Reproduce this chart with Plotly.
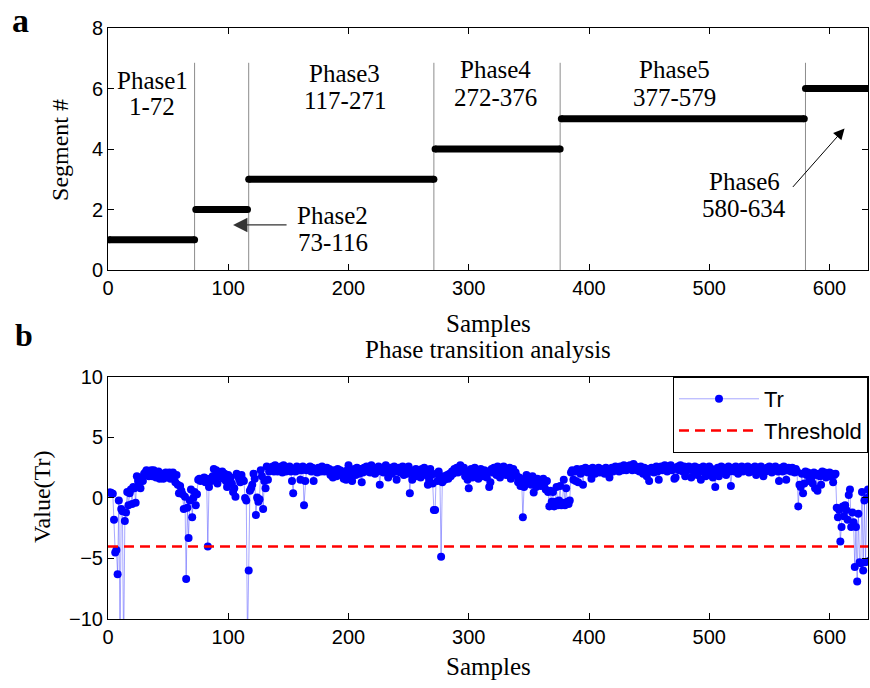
import plotly.graph_objects as go

# ---------------- data ----------------
# Panel a: segmentation result
phase_numbers = [1, 2, 3, 4, 5, 6]
phase_starts = [1, 73, 117, 272, 377, 580]
phase_ends = [72, 116, 271, 376, 579, 634]
phase_boundaries = [72, 117, 271, 376, 580]
boundary_top = 6.85
phase_names = ["Phase1", "Phase2", "Phase3", "Phase4", "Phase5", "Phase6"]
phase_ranges = ["1-72", "73-116", "117-271", "272-376", "377-579", "580-634"]
label_x = [37, 187, 197, 322, 471, 529]
name_y = [6.25, 1.79, 6.51, 6.64, 6.64, 2.94]
range_y = [5.39, 0.91, 5.59, 5.70, 5.70, 2.02]

# Panel b: transition statistic Tr per sample
tr_values = [
    0.45, 0.45, 0.4, 0.35, -1.8, -4.5, -4.3, -6.3, -0.2, -12.0,
    -0.9, -1.1, -13.0, -1.9, -1.2, 0.5, -0.6, 0.4, 0.7, -0.5,
    0.9, 0.8, -0.4, 1.8, 1.4, 1.2, 0.8, 1.7, 1.4, 2.0,
    2.1, 2.3, 2.2, 1.8, 2.2, 2.3, 1.8, 2.3, 2.1, 1.7,
    2.0, 2.2, 1.6, 1.7, 2.0, 1.6, 1.8, 2.1, 1.7, 1.9,
    2.1, 1.6, 2.0, 2.1, 1.8, 1.3, 1.9, 1.1, 0.4, 1.0,
    0.6, 0.3, -0.9, 0.1, -6.7, -0.8, -3.3, -0.2, 0.7, -1.6,
    0.0, 0.5, -0.6, 0.3, 1.5, 1.6, 1.4, 1.6, 1.5, 1.7,
    1.3, 1.6, -4.0, 0.9, 1.6, 1.4, 1.8, 2.4, 1.5, 2.3,
    1.2, 1.8, 2.1, 1.9, 2.2, 1.6, 2.0, 1.4, 0.9, 1.9,
    1.4, 1.7, 1.2, 0.5, 0.8, 0.1, 2.0, 1.8, 1.6, 1.3,
    1.9, 1.5, 1.4, 0.0, -0.2, -12.0, -6.0, 0.6, 0.8, 1.1,
    2.0, 1.6, -1.4, 0.05, -0.3, -0.1, 2.3, 1.8, -0.9, 1.4,
    0.8, 2.6, 1.5, 2.2, 2.5, 2.3, 2.6, 2.2, 2.7, 2.4,
    2.2, 2.5, 2.3, 2.6, 2.1, 2.7, 2.4, 2.2, 2.5, 2.3,
    2.6, 2.2, 1.4, 0.4, 2.4, 2.2, 2.6, 2.3, 2.5, 1.5,
    2.3, 2.6, -0.6, 1.4, 2.3, 2.5, 2.4, 2.6, 2.2, 2.5,
    1.4, 2.3, 2.4, 2.1, 2.5, 2.3, 2.2, 2.6, 2.4, 2.2,
    2.3, 2.5, 2.2, 2.4, 1.9, 2.2, 1.7, 2.3, 2.0, 1.8,
    2.4, 2.1, 2.3, 1.9, 2.2, 1.6, 2.0, 1.5, 2.3, 2.7,
    2.1, 1.7, 1.4, 2.2, 2.4, 1.9, 2.5, 2.2, 2.0, 2.4,
    1.3, 2.1, 2.5, 2.3, 2.6, 2.2, 2.4, 2.1, 2.7, 2.3,
    2.5, 2.0, 2.4, 2.2, 2.6, 1.1, 2.3, 2.5, 2.1, 2.4,
    2.7, 2.2, 1.7, 2.3, 2.5, 2.0, 2.4, 2.6, 2.2, 1.5,
    2.3, 2.5, 2.1, 2.4, 2.6, 1.9, 2.3, 2.5, 2.0, 2.6,
    0.4, 2.2, 1.5, 2.0, 2.3, 2.4, 1.8, 2.3, 2.1, 1.7,
    2.4, 2.2, 2.5, 1.9, 2.3, 1.1, 1.5, 2.4, 1.9, 1.2,
    -1.0, -1.0, 2.0, 1.4, 2.2, 1.7, -4.85, 1.3, 1.8, 1.5,
    1.7, 1.9, 1.6, 2.0, 1.8, 2.2, 2.0, 2.4, 2.2, 2.5,
    2.1, 2.3, 2.7, 2.4, 2.2, 2.5, 1.8, 2.2, 1.5, 0.8,
    2.0, 2.4, 1.7, 2.2, 2.5, 2.0, 2.3, 1.6, 2.2, 2.4,
    2.1, 1.8, 2.3, 2.0, 1.7, 2.2, 0.9, 1.3, 2.4, 2.1,
    2.5, 2.2, 1.9, 2.6, 2.3, 1.7, 2.5, 2.1, 2.6, 2.3,
    1.9, 2.4, 2.1, 2.5, 1.6, 2.2, 2.4, 1.9, 2.1, 1.8,
    1.3, 1.7, 1.0, 1.5, -1.6, 0.9, 1.6, 1.9, 1.2, 1.7,
    1.5, 1.1, 1.8, 0.45, 1.3, 0.9, 1.6, 1.2, 1.5, 1.0,
    1.4, 1.6, 1.2, 0.7, 1.4, 0.5, -0.7, 0.6, -0.3, 0.5,
    -0.7, -0.3, 0.9, -0.6, -0.2, 1.0, -0.6, -0.4, 1.5, -0.6,
    0.8, -0.3, -0.5, -0.2, 2.1, 2.3, 1.5, 2.2, 1.4, 2.4,
    1.3, 2.3, 2.0, 2.4, 1.1, 2.2, 2.5, 2.3, 2.1, 2.4,
    2.2, 1.6, 2.5, 2.3, 2.0, 2.4, 2.2, 2.5, 2.1, 2.4,
    2.2, 2.3, 2.0, 2.5, 2.2, 2.4, 1.7, 2.3, 2.5, 2.2,
    2.4, 2.6, 2.3, 2.5, 2.2, 2.6, 2.4, 2.3, 2.7, 2.5,
    2.3, 2.6, 2.4, 2.7, 2.5, 2.3, 2.8, 2.4, 2.6, 2.3,
    2.5, 2.2, 2.6, 2.4, 2.0, 2.5, 2.3, 1.8, 2.4, 1.4,
    2.2, 2.5, 2.3, 2.1, 2.4, 2.6, 2.2, 1.5, 2.4, 2.6,
    2.3, 2.5, 2.7, 2.4, 2.2, 2.6, 2.4, 2.7, 2.3, 2.5,
    1.6, 1.7, 2.4, 2.6, 2.3, 2.7, 2.4, 2.2, 2.6, 1.8,
    2.5, 2.3, 2.6, 2.4, 1.7, 2.5, 2.2, 2.6, 2.3, 1.9,
    2.5, 2.2, 1.5, 2.4, 2.6, 2.1, 1.8, 2.5, 2.3, 2.6,
    2.0, 2.4, 1.7, 2.2, 0.9, 2.3, 2.5, 1.8, 2.4, 2.6,
    2.2, 2.5, 2.3, 1.9, 2.4, 2.6, 2.2, 1.0, 2.3, 2.5,
    2.2, 2.6, 2.4, 2.0, 2.5, 2.3, 2.6, 2.2, 2.4, 2.5,
    2.3, 2.6, 2.1, 2.4, 2.2, 2.5, 2.3, 2.6, 1.9, 2.4,
    2.5, 2.2, 2.6, 2.3, 1.8, 2.4, 2.2, 2.5, 2.3, 2.6,
    2.4, 2.1, 2.5, 2.3, 2.6, 2.4, 2.2, 1.4, 2.3, 2.5,
    2.2, 2.6, 2.4, 1.5, 2.3, 2.5, 2.4, 2.2, 2.5, 2.3,
    2.1, 2.4, 2.2, -0.7, 1.1, 0.9, 2.0, 0.4, 1.2, 2.2,
    1.9, 2.1, 1.4, 2.0, 1.7, 1.2, 2.1, 0.8, 1.9, 0.6,
    2.0, 1.8, 1.1, 2.2, 1.9, 2.1, 1.7, 2.0, 1.9, 2.1,
    1.8, 2.0, 1.3, 1.9, 2.0, -0.8, -1.6, -1.0, -3.6, -2.4,
    -0.7, -1.5, -0.6, -1.0, -1.8, 0.25, 0.7, -2.4, -1.2, -2.0,
    -5.7, -2.4, -6.9, -1.3, -5.3, -5.4, 0.5, -6.0, -0.2, -5.3,
    0.0, 0.7, -5.2, 0.3,
]
sample_idx = list(range(1, len(tr_values) + 1))
threshold_value = -4
threshold_x = [0, 634]

x_ticks = [0, 100, 200, 300, 400, 500, 600]
ya_ticks = [0, 2, 4, 6, 8]
yb_ticks = [-10, -5, 0, 5, 10]

SERIF = "Liberation Serif"
SANS = "Liberation Sans"

fig = go.Figure()

# ---- panel a: boundaries ----
for b in phase_boundaries:
    fig.add_trace(go.Scatter(x=[b, b], y=[0, boundary_top], mode="lines",
                             line=dict(color="#8c8c8c", width=1),
                             showlegend=False, hoverinfo="skip",
                             xaxis="x", yaxis="y"))

# ---- panel a: segments ----
seg_x, seg_y = [], []
for n, s, e in zip(phase_numbers, phase_starts, phase_ends):
    seg_x += [s, e, None]
    seg_y += [n, n, None]
fig.add_trace(go.Scatter(x=seg_x, y=seg_y, mode="lines+markers",
                         line=dict(color="black", width=7),
                         marker=dict(color="black", size=7),
                         showlegend=False, xaxis="x", yaxis="y"))

# ---- panel b ----
fig.add_trace(go.Scatter(x=sample_idx, y=tr_values, mode="lines+markers", name="Tr",
                         line=dict(color="rgba(60,60,255,0.45)", width=1),
                         marker=dict(color="#0000ff", size=8),
                         xaxis="x2", yaxis="y2"))
fig.add_trace(go.Scatter(x=threshold_x, y=[threshold_value] * len(threshold_x),
                         mode="lines", name="Threshold",
                         line=dict(color="#ff0000", width=2.5, dash="10px,6px"),
                         xaxis="x2", yaxis="y2"))

axis_common = dict(showline=True, linecolor="black", linewidth=1, mirror="ticks",
                   ticks="inside", ticklen=6, tickcolor="black", showgrid=False,
                   zeroline=False, tickfont=dict(family=SANS, size=20, color="black"))

fig.update_layout(
    width=870, height=688,
    margin=dict(l=108, r=2, t=28, b=69),
    paper_bgcolor="white", plot_bgcolor="white",
    xaxis=dict(domain=[0, 1], range=[0, 632], tickvals=x_ticks, anchor="y", **axis_common),
    yaxis=dict(domain=[0.5905, 1], range=[0, 8], tickvals=ya_ticks, anchor="x", **axis_common),
    xaxis2=dict(domain=[0, 1], range=[0, 632], tickvals=x_ticks, anchor="y2", **axis_common),
    yaxis2=dict(domain=[0, 0.4095], range=[-10, 10], tickvals=yb_ticks, anchor="x2", **axis_common),
    legend=dict(x=1, y=0.4095, xanchor="right", yanchor="top",
                bgcolor="white", bordercolor="black", borderwidth=1,
                font=dict(family=SANS, size=22, color="black"),
                itemwidth=80, tracegroupgap=0),
    showlegend=True,
)

annotations = []
# phase labels (two lines each)
for nm, rg, lx, ny, ry in zip(phase_names, phase_ranges, label_x, name_y, range_y):
    annotations.append(dict(x=lx, y=ny, xref="x", yref="y", text=nm, showarrow=False,
                            font=dict(family=SERIF, size=25, color="black"),
                            xanchor="center", yanchor="middle"))
    annotations.append(dict(x=lx, y=ry, xref="x", yref="y", text=rg, showarrow=False,
                            font=dict(family=SERIF, size=25, color="black"),
                            xanchor="center", yanchor="middle"))
# arrows
annotations.append(dict(x=104, y=1.49, xref="x", yref="y", text="", showarrow=True,
                        ax=55, ay=0, arrowhead=2, arrowsize=2.4, arrowwidth=1.2,
                        arrowcolor="#333333"))
annotations.append(dict(x=612.5, y=4.68, xref="x", yref="y", text="", showarrow=True,
                        ax=-53, ay=60, arrowhead=2, arrowsize=2.2, arrowwidth=1,
                        arrowcolor="black"))
# panel letters
annotations.append(dict(x=-0.1145, y=1.012, xref="paper", yref="paper", text="<b>a</b>",
                        showarrow=False, font=dict(family=SERIF, size=34, color="black"),
                        xanchor="center", yanchor="middle"))
annotations.append(dict(x=-0.110, y=0.481, xref="paper", yref="paper", text="<b>b</b>",
                        showarrow=False, font=dict(family=SERIF, size=32, color="black"),
                        xanchor="center", yanchor="middle"))
# axis titles
annotations.append(dict(x=-0.0632, y=0.7936, xref="paper", yref="paper", text="Segment #",
                        textangle=-90, showarrow=False,
                        font=dict(family=SERIF, size=24, color="black"),
                        xanchor="center", yanchor="middle"))
annotations.append(dict(x=-0.0868, y=0.2064, xref="paper", yref="paper", text="Value(Tr)",
                        textangle=-90, showarrow=False,
                        font=dict(family=SERIF, size=24, color="black"),
                        xanchor="center", yanchor="middle"))
annotations.append(dict(x=0.5, y=0.5008, xref="paper", yref="paper", text="Samples",
                        showarrow=False, font=dict(family=SERIF, size=25, color="black"),
                        xanchor="center", yanchor="middle"))
annotations.append(dict(x=0.5, y=0.4552, xref="paper", yref="paper",
                        text="Phase transition analysis",
                        showarrow=False, font=dict(family=SERIF, size=25, color="black"),
                        xanchor="center", yanchor="middle"))
annotations.append(dict(x=0.5, y=-0.0812, xref="paper", yref="paper", text="Samples",
                        showarrow=False, font=dict(family=SERIF, size=25, color="black"),
                        xanchor="center", yanchor="middle"))
fig.update_layout(annotations=annotations)

fig.write_html("out.html",
               config={"displayModeBar": False},
               post_script="document.body.style.margin='0';"
                           "document.body.style.padding='0';"
                           "document.body.style.overflow='hidden';")
